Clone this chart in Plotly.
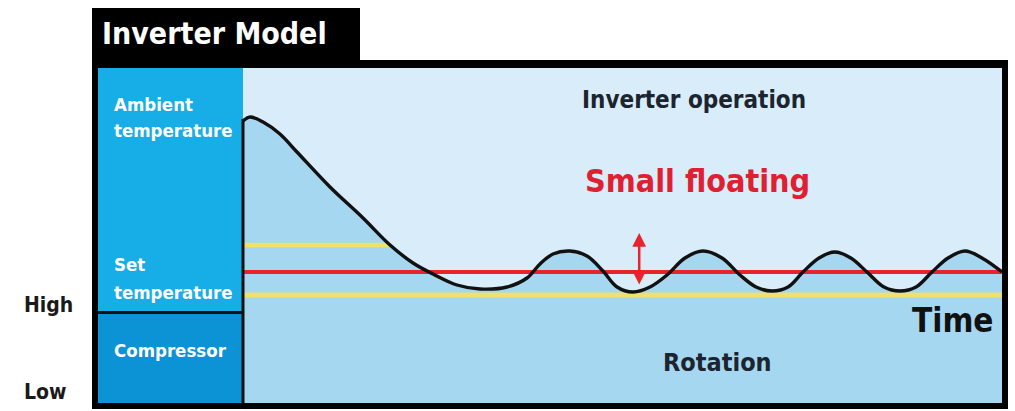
import plotly.graph_objects as go

# ---------------- data ----------------
time_pts = [0.0, 0.92, 2.64, 4.87, 7.11, 11.46, 15.81, 19.37, 22.40, 25.03, 28.19,
            31.23, 34.78, 37.42, 39.13, 40.84, 43.08, 45.32, 47.43, 49.28, 51.38,
            53.62, 55.86, 58.23, 60.61, 63.11, 65.48, 67.59, 69.70, 71.81, 73.78,
            75.89, 77.98, 80.08, 82.21, 84.45, 86.56, 88.67, 90.78, 92.89, 95.13,
            97.36, 100.0]
room_temp = [31.55, 31.75, 31.5, 30.9, 30.0, 28.25, 26.7, 25.35, 24.45, 23.9, 23.35,
             23.15, 23.25, 23.7, 24.4, 24.9, 25.05, 24.8, 24.05, 23.25, 23.0,
             23.25, 23.85, 24.7, 25.05, 24.7, 23.85, 23.25, 23.05, 23.25, 24.0,
             24.7, 25.0, 24.7, 24.0, 23.25, 23.05, 23.25, 24.0, 24.7, 25.05,
             24.7, 24.0]
set_temp = 24.0
band_upper = 25.35
band_lower = 22.85
upper_band_end = 19.4
swing_time = 52.2
swing_top = 25.95
swing_bottom = 23.3

title_text = "Inverter Model"
panel_labels = ["Ambient", "temperature", "Set", "temperature", "Compressor"]
level_labels = ["High", "Low"]

# ---------------- layout helpers ----------------
W, H = 1015, 411
def px(x):
    return x / W
def py(y):
    return 1 - y / H

FONT = "DejaVu Sans Condensed, DejaVu Sans, sans-serif"
LIGHT = "#d8edf9"
FILL = "#a6d7f1"
CYAN = "#17ade6"
DEEP = "#0b93d6"
RED = "#e8232b"
YELLOW = "#ece26c"

fig = go.Figure()

# area under the temperature curve
fig.add_trace(go.Scatter(x=time_pts, y=room_temp, mode="lines",
                         line=dict(width=0, shape="spline", smoothing=1.0),
                         fill="tozeroy", fillcolor=FILL, hoverinfo="skip"))
# yellow band lines
fig.add_trace(go.Scatter(x=[0, upper_band_end], y=[band_upper, band_upper], mode="lines",
                         line=dict(color=YELLOW, width=4.5)))
fig.add_trace(go.Scatter(x=[0, 100], y=[band_lower, band_lower], mode="lines",
                         line=dict(color=YELLOW, width=5)))
# set temperature red line
fig.add_trace(go.Scatter(x=[0, 100], y=[set_temp, set_temp], mode="lines",
                         line=dict(color=RED, width=4)))
# black temperature curve
fig.add_trace(go.Scatter(x=time_pts, y=room_temp, mode="lines",
                         line=dict(color="#111111", width=3.4, shape="spline", smoothing=1.0)))

shapes = []
def rect(x0, y0, x1, y1, color, layer="above"):
    shapes.append(dict(type="rect", xref="paper", yref="paper",
                       x0=px(x0), x1=px(x1), y0=py(y1), y1=py(y0),
                       fillcolor=color, line=dict(width=0), layer=layer))

# left panels
rect(98, 68, 243, 312, CYAN)
rect(98, 314, 243, 403, DEEP)
rect(98, 311, 243, 314, "#111111")
# divider at the curve start
rect(241.5, 119, 244.5, 403, "#111111")
# frame
rect(92, 8, 360, 68, "#000000")
rect(360, 60, 1008, 68, "#000000")
rect(1002, 60, 1008, 409, "#000000")
rect(92, 403, 1008, 409, "#000000")
rect(92, 8, 98, 409, "#000000")

ann = []
def text(x, y, s, size, color, anchor="left", bold=True):
    ann.append(dict(xref="paper", yref="paper", x=px(x), y=py(y), text=("<b>%s</b>" % s) if bold else s,
                    showarrow=False, xanchor=anchor, yanchor="middle", align="left",
                    font=dict(family=FONT, size=size, color=color)))

text(100, 33, title_text, 30, "#ffffff")
text(112, 104, panel_labels[0], 18.5, "#ffffff")
text(112, 131, panel_labels[1], 18.5, "#ffffff")
text(112, 264, panel_labels[2], 18.5, "#ffffff")
text(112, 292, panel_labels[3], 18.5, "#ffffff")
text(112, 350, panel_labels[4], 18.5, "#ffffff")
text(22, 305, level_labels[0], 21, "#1a1a1a")
text(22, 392, level_labels[1], 21, "#1a1a1a")
text(694, 100, "Inverter operation", 24, "#1c2430", anchor="center")
text(697, 181, "Small floating", 32, "#e02030", anchor="center")
text(996, 320, "Time", 33, "#111111", anchor="right")
text(717, 362, "Rotation", 25, "#1c2430", anchor="center")

# double arrow showing the small floating
ann.append(dict(xref="x", yref="y", axref="x", ayref="y",
                x=swing_time, y=swing_top, ax=swing_time, ay=swing_bottom,
                text="", showarrow=True, arrowside="end+start", arrowhead=2,
                arrowsize=1.1, arrowwidth=2.5, arrowcolor=RED))

fig.update_layout(
    width=W, height=H, margin=dict(l=0, r=0, t=0, b=0),
    paper_bgcolor="#ffffff", plot_bgcolor=LIGHT, showlegend=False,
    xaxis=dict(domain=[px(243), px(1002)], range=[0, 100], visible=False, fixedrange=True),
    yaxis=dict(domain=[py(403), py(68)], range=[17.45, 34.2], visible=False, fixedrange=True),
    shapes=shapes, annotations=ann,
)

fig.write_html("out.html", post_script="document.body.style.margin='0';",
               config={"displayModeBar": False})
